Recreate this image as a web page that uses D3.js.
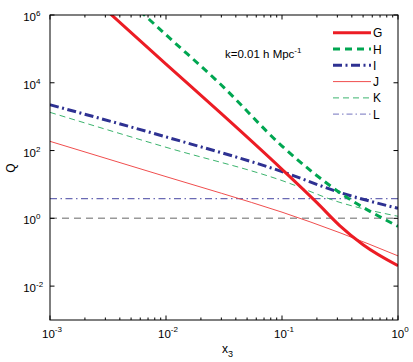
<!DOCTYPE html>
<html>
<head>
<meta charset="utf-8">
<script src="https://cdn.jsdelivr.net/npm/d3@7"></script>
<style>
  body { margin: 0; background: #fff; }
  svg { font-family: "Liberation Sans", Arial, sans-serif; }
</style>
</head>
<body>
<svg width="413" height="362"></svg>
<script>
// values (x3, Q)
var gX = [0.003, 0.01, 0.03, 0.1, 0.2, 0.316, 0.5, 1];
var gQ = [1.47e6, 3.54e4, 1230, 28, 2.9, 0.6, 0.166, 0.04];
var hX = [0.005, 0.01, 0.03, 0.1, 0.316, 1];
var hQ = [2.3e6, 2.6e5, 8600, 136, 5.7, 0.58];
var iX = [0.001, 0.01, 0.1, 0.316, 1];
var iQ = [2250, 253, 24, 5.8, 1.97];
var jX = [0.001, 0.01, 0.03, 0.1, 0.316, 1];
var jQ = [187, 17, 5.5, 1.52, 0.375, 0.078];
var kX = [0.001, 0.01, 0.1, 0.316, 1];
var kQ = [1340, 125, 13, 2.95, 1.15];
var levels = [1, 3.8];   // gray dashed, blue dash-dot
var xTicks = [1e-3, 1e-2, 1e-1, 1];
var yTicks = [1e-2, 1, 1e2, 1e4, 1e6];

var series = [
  {name: "G", x: gX, y: gQ, color: "#ec1c24", width: 3, dash: null},
  {name: "H", x: hX, y: hQ, color: "#00a651", width: 3, dash: "7,5"},
  {name: "I", x: iX, y: iQ, color: "#2e3192", width: 3, dash: "9,3.5,2,3.5"},
  {name: "J", x: jX, y: jQ, color: "#f04e4e", width: 1, dash: null},
  {name: "K", x: kX, y: kQ, color: "#3cb46e", width: 1, dash: "6,4"},
  {name: "L", x: [], y: [], color: "#9090cc", width: 1.2, dash: "6,3,1.5,3"}
];

var svg = d3.select("svg"),
    margin = {left: 50, right: 15, top: 15, bottom: 42},
    W = 413, H = 362,
    x = d3.scaleLog().domain([1e-3, 1]).range([margin.left, W - margin.right]),
    y = d3.scaleLog().domain([1e-3, 1e6]).range([H - margin.bottom, margin.top]);

svg.append("clipPath").attr("id", "clip")
  .append("rect")
  .attr("x", x.range()[0]).attr("y", y.range()[1])
  .attr("width", x.range()[1] - x.range()[0])
  .attr("height", y.range()[0] - y.range()[1]);

var plot = svg.append("g").attr("clip-path", "url(#clip)");

// horizontal reference levels
plot.selectAll("line.level")
  .data(levels)
  .enter().append("line")
  .attr("class", "level")
  .attr("x1", x(1e-3)).attr("x2", x(1))
  .attr("y1", function (d) { return y(d); })
  .attr("y2", function (d) { return y(d); })
  .attr("stroke", function (d, i) { return i ? "#6a6ab4" : "#999"; })
  .attr("stroke-width", function (d, i) { return i ? 1.2 : 1.5; })
  .attr("stroke-dasharray", function (d, i) { return i ? "7,3.5,1.5,3.5" : "7,5"; });

var line = d3.line()
  .x(function (d) { return x(d[0]); })
  .y(function (d) { return y(d[1]); })
  .curve(d3.curveMonotoneX);

// thin ones first, thick on top
var order = [3, 4, 2, 1, 0];
order.forEach(function (k) {
  var s = series[k];
  plot.append("path")
    .datum(d3.zip(s.x, s.y))
    .attr("d", line)
    .attr("fill", "none")
    .attr("stroke", s.color)
    .attr("stroke-width", s.width)
    .attr("stroke-dasharray", s.dash);
});

// axes box and ticks (matlab style, ticks inward)
var axes = svg.append("g").attr("stroke", "#000").attr("fill", "none");
axes.append("rect")
  .attr("x", x.range()[0]).attr("y", y.range()[1])
  .attr("width", x.range()[1] - x.range()[0])
  .attr("height", y.range()[0] - y.range()[1])
  .attr("stroke-width", 1);

var minorX = [];
for (var e = -3; e < 0; e++)
  for (var m = 2; m < 10; m++) minorX.push(m * Math.pow(10, e));

var y0 = y.range()[0], y1 = y.range()[1], x0 = x.range()[0], x1 = x.range()[1];
xTicks.concat(minorX).forEach(function (t) {
  var len = xTicks.indexOf(t) >= 0 ? 4.5 : 2.5;
  axes.append("line").attr("x1", x(t)).attr("x2", x(t)).attr("y1", y0).attr("y2", y0 - len);
  axes.append("line").attr("x1", x(t)).attr("x2", x(t)).attr("y1", y1).attr("y2", y1 + len);
});
yTicks.forEach(function (t) {
  axes.append("line").attr("x1", x0).attr("x2", x0 + 4.5).attr("y1", y(t)).attr("y2", y(t));
  axes.append("line").attr("x1", x1).attr("x2", x1 - 4.5).attr("y1", y(t)).attr("y2", y(t));
});

// tick labels
var fs = 11.5;
xTicks.forEach(function (t) {
  var txt = svg.append("text")
    .attr("x", x(t) + 2).attr("y", y0 + 18)
    .attr("text-anchor", "middle")
    .attr("font-size", fs);
  txt.append("tspan").text("10");
  txt.append("tspan").attr("dy", -6).attr("font-size", 8).text(Math.round(Math.log10(t)));
});
yTicks.forEach(function (t) {
  svg.append("text")
    .attr("x", 36).attr("y", y(t) + 6)
    .attr("text-anchor", "end")
    .attr("font-size", fs)
    .text("10");
  svg.append("text")
    .attr("x", 36).attr("y", y(t) + 1)
    .attr("font-size", 8)
    .text(Math.round(Math.log10(t)));
});

// axis labels
var xl = svg.append("text")
  .attr("x", 222).attr("y", 353)
  .attr("font-size", 12);
xl.append("tspan").text("x");
xl.append("tspan").attr("dy", 4).attr("font-size", 9).text("3");

svg.append("text")
  .attr("transform", "translate(15,168) rotate(-90)")
  .attr("text-anchor", "middle")
  .attr("font-size", 12)
  .text("Q");

// annotation
var ann = svg.append("text")
  .attr("x", 225).attr("y", 58)
  .attr("font-size", 11.5);
ann.append("tspan").text("k=0.01 h Mpc");
ann.append("tspan").attr("dy", -5).attr("font-size", 8).text("-1");

// legend
var leg = svg.append("g").selectAll("g")
  .data(series)
  .enter().append("g")
  .attr("transform", function (d, i) { return "translate(333," + (32.7 + i * 16.3) + ")"; });
leg.append("line")
  .attr("x1", 0).attr("x2", 38)
  .attr("stroke", function (d) { return d.color; })
  .attr("stroke-width", function (d) { return d.width; })
  .attr("stroke-dasharray", function (d) { return d.dash; });
leg.append("text")
  .attr("x", 40).attr("y", 4.5)
  .attr("font-size", 12)
  .text(function (d) { return d.name; });
</script>
</body>
</html>
